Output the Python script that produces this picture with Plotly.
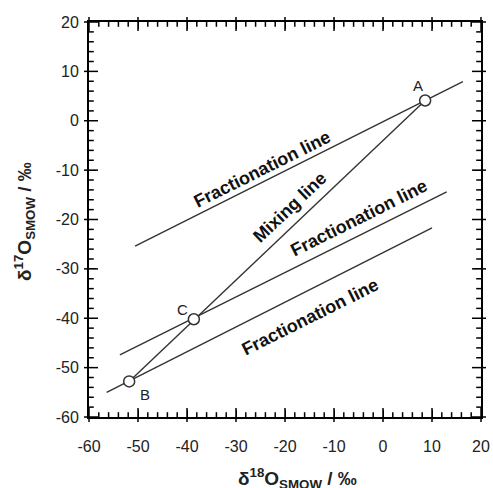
import plotly.graph_objects as go

# Points
point_names = ["A", "B", "C"]
point_x = [8.6, -51.8, -38.6]
point_y = [4.1, -52.8, -40.2]

# Point label positions
label_x = [7.1, -48.6, -40.9]
label_y = [7.2, -55.5, -38.3]

# Fractionation lines (endpoints)
frac_top_x = [-50.6, 16.3]
frac_top_y = [-25.4, 7.9]
frac_mid_x = [-53.7, 13.0]
frac_mid_y = [-47.4, -14.4]
frac_bot_x = [-56.4, 10.0]
frac_bot_y = [-55.0, -21.7]

# Mixing line (A to B)
mix_x = [point_x[0], point_x[1]]
mix_y = [point_y[0], point_y[1]]

# Line text labels
line_labels = ["Fractionation line", "Mixing line", "Fractionation line", "Fractionation line"]
line_label_x = [-24.6, -19.0, -4.9, -14.9]
line_label_y = [-9.7, -17.4, -19.7, -39.7]
line_label_angle = [-26.5, -43.5, -26.5, -26.5]

# Axis ticks
axis_range = [-60, 20]
major_ticks = [-60, -50, -40, -30, -20, -10, 0, 10, 20]
major_labels = ["-60", "-50", "-40", "-30", "-20", "-10", "0", "10", "20"]
minor_ticks = [v for v in range(-60, 21, 2) if v not in major_ticks]

W, H = 493, 488
ML, MR, MT, MB = 89, 12, 22, 71
FONT = "Liberation Sans, Arial, Helvetica"
line_color = "#333333"

fig = go.Figure()
for xs, ys in [(frac_top_x, frac_top_y), (frac_mid_x, frac_mid_y), (frac_bot_x, frac_bot_y), (mix_x, mix_y)]:
    fig.add_trace(go.Scatter(x=xs, y=ys, mode="lines",
                             line=dict(color=line_color, width=1.4),
                             showlegend=False, hoverinfo="skip"))

fig.add_trace(go.Scatter(x=point_x, y=point_y, mode="markers",
                         marker=dict(symbol="circle", size=11, color="white",
                                     line=dict(color=line_color, width=1.5)),
                         showlegend=False))

# tick marks on all four sides (markers placed on the axis values)
span = axis_range[1] - axis_range[0]
xpx = span / (W - ML - MR)   # data units per pixel along x
ypx = span / (H - MT - MB)   # data units per pixel along y
for ticks, size in [(major_ticks, 10), (minor_ticks, 4)]:
    n = len(ticks)
    off = 2  # pixel offset of tick centre towards the inside
    tick_marker = lambda sym: dict(symbol=sym, size=size, color="black",
                                   line=dict(color="black", width=1.5))
    # bottom and top
    fig.add_trace(go.Scatter(x=ticks + ticks,
                             y=[axis_range[0] + off * ypx] * n + [axis_range[1] - off * ypx] * n,
                             mode="markers", marker=tick_marker("line-ns"), cliponaxis=False,
                             showlegend=False, hoverinfo="skip"))
    # left and right
    fig.add_trace(go.Scatter(y=ticks + ticks,
                             x=[axis_range[0] + off * xpx] * n + [axis_range[1] - off * xpx] * n,
                             mode="markers", marker=tick_marker("line-ew"), cliponaxis=False,
                             showlegend=False, hoverinfo="skip"))

# invisible trace for mirrored axes (top/right frame)
fig.add_trace(go.Scatter(x=axis_range, y=axis_range, mode="markers", xaxis="x2", yaxis="y2",
                         marker=dict(opacity=0), showlegend=False, hoverinfo="skip"))

for n_, lx, ly in zip(point_names, label_x, label_y):
    fig.add_annotation(x=lx, y=ly, text=n_, showarrow=False,
                       font=dict(family=FONT, size=15, color="#222"))

for t, lx, ly, a in zip(line_labels, line_label_x, line_label_y, line_label_angle):
    fig.add_annotation(x=lx, y=ly, text="<b>" + t + "</b>", showarrow=False, textangle=a,
                       xanchor="center", yanchor="middle",
                       font=dict(family=FONT, size=18, color="#111"))

# axis titles as annotations
fig.add_annotation(x=0.533, y=-0.155, xref="paper", yref="paper", showarrow=False,
                   xanchor="center", yanchor="middle",
                   text="<b>δ<sup>18</sup>O<sub>SMOW</sub> / ‰</b>",
                   font=dict(family=FONT, size=19, color="#222"))
fig.add_annotation(x=-0.163, y=0.494, xref="paper", yref="paper", showarrow=False,
                   xanchor="center", yanchor="middle", textangle=-90,
                   text="<b>δ<sup>17</sup>O<sub>SMOW</sub> / ‰</b>",
                   font=dict(family=FONT, size=19, color="#222"))


def ax(side, labels, overlay=None, **kw):
    d = dict(range=axis_range, tickmode="array", tickvals=major_ticks, ticktext=major_labels,
             automargin=False, side=side, showticklabels=labels,
             showgrid=False, zeroline=False, showline=True, linecolor="black", linewidth=2,
             ticks="inside", ticklen=7, tickwidth=1.4, tickcolor="black",
             tickfont=dict(family=FONT, size=16, color="#222"), **kw)
    if overlay:
        d["overlaying"] = overlay
    return d


fig.update_layout(
    template="none",
    xaxis=ax("bottom", True, ticklabelstandoff=14),
    yaxis=ax("left", True, ticklabelstandoff=5),
    xaxis2=ax("top", False, overlay="x"),
    yaxis2=ax("right", False, overlay="y"),
    width=W, height=H, margin=dict(l=ML, r=MR, t=MT, b=MB),
    plot_bgcolor="white", paper_bgcolor="white",
)

fig.write_html("out.html", config={"displayModeBar": False},
               post_script="document.body.style.margin='0';document.body.style.overflow='hidden';")
